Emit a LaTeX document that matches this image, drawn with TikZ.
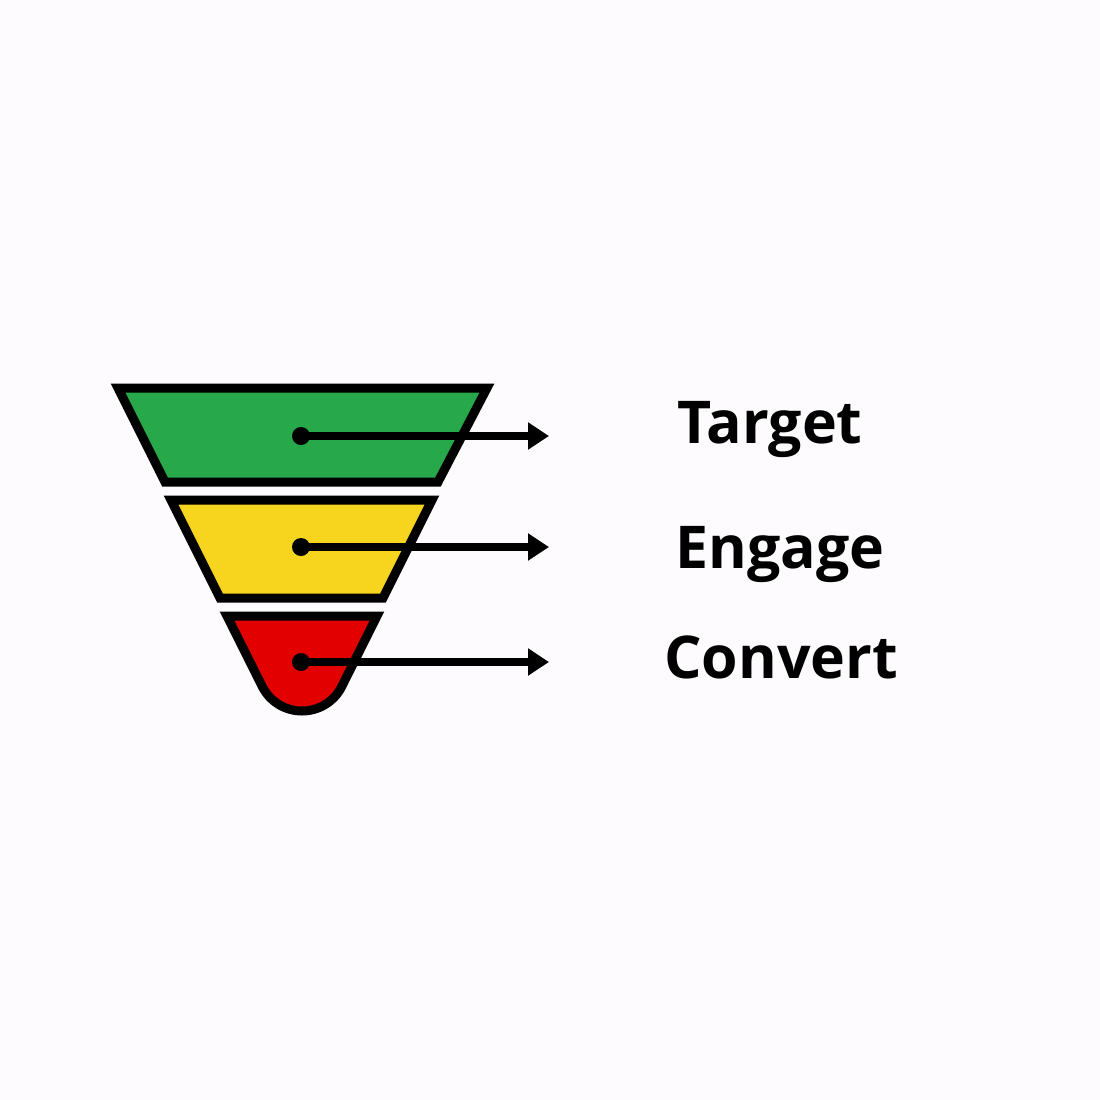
\documentclass[tikz,border=0pt]{standalone}
\usepackage{fontspec}
\setmainfont{Open Sans}
\usetikzlibrary{arrows.meta}
\definecolor{bgwhite}{HTML}{FDFBFD}
\definecolor{tgreen}{HTML}{27A84A}
\definecolor{tyellow}{HTML}{F7D51F}
\definecolor{tred}{HTML}{E30000}
\begin{document}
\begin{tikzpicture}[x=1pt,y=-1pt]
				\tikzstyle{Layer} = [draw=black, line width=9pt, line join=miter]
				\tikzstyle{Dot} = [circle, fill=black, minimum size=18pt, inner sep=0pt]
				\tikzstyle{Pointer} = [line width=7.5pt, -{Triangle[length=21pt,width=26pt]}]
				\tikzstyle{Label} = [anchor=base, inner sep=0pt, font=\fontsize{59}{63}\selectfont\bfseries]
				\fill [bgwhite] (0,0) rectangle (1100,1100);
				\useasboundingbox (0,0) rectangle (1100,1100);
				% funnel layers
				\draw [Layer, fill=tgreen] (118,388) -- (487,388) -- (438,482) -- (165,482) -- cycle;
				\draw [Layer, fill=tyellow] (171,500) -- (432,500) -- (383,598) -- (220,598) -- cycle;
				\draw [Layer, fill=tred] (227,616) -- (377,616) -- (341.8,686.4)
					.. controls (334.3,701.5) and (318.9,711) .. (302,711)
					.. controls (285.1,711) and (269.7,701.5) .. (262.2,686.4) -- cycle;
				\node (d1) at (301,436) [Dot] {};
				\node (d2) at (301,547) [Dot] {};
				\node (d3) at (301,662) [Dot] {};
				\coordinate (e1) at (549,436);
				\coordinate (e2) at (549,547);
				\coordinate (e3) at (549,662);
				\draw [Pointer] (d1.center) to (e1);
				\draw [Pointer] (d2.center) to (e2);
				\draw [Pointer] (d3.center) to (e3);
				\node (target) at (770,443) [Label] {Target};
				\node (engage) at (780,568) [Label] {Engage};
				\node (convert) at (781,678) [Label] {Convert};
			\end{tikzpicture}
\end{document}
